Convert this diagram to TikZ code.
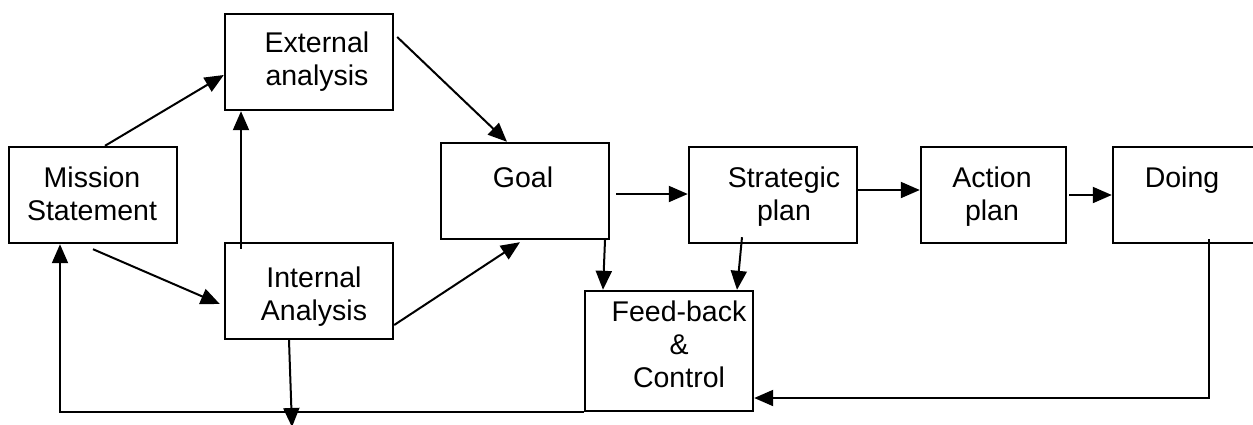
\documentclass[tikz,border=0pt]{standalone}
\usepackage{fontspec}
\setmainfont{Liberation Sans}
\usetikzlibrary{arrows.meta}
\begin{document}
\begin{tikzpicture}[x=1pt,y=-1pt,
  box/.style={draw, line width=2.4pt, minimum width=168pt, minimum height=96pt, inner sep=0pt},
  lbl/.style={font=\fontsize{28.5}{33}\selectfont, text width=170pt, align=center, anchor=base, inner sep=0pt},
  conn/.style={line width=2pt},
  arr/.style={conn, -{Triangle[length=19pt,width=16pt]}}]
\useasboundingbox (0,0) rectangle (1253,424);
\clip (0,0) rectangle (1253,424);
% boxes
\node[box] (ms) at (93,195) {};
\node[box] (ext) at (309,62) {};
\node[box] (int) at (309,291) {};
\node[box] (goal) at (525,191) {};
\node[box] (strat) at (773,195) {};
\node[box, minimum width=145pt] (act) at (993.5,195) {};
\node[box] (doing) at (1197,195) {};
\node[box, minimum height=120pt] (fb) at (669,351) {};
% texts
\node[lbl] (msT) at (92,187) {Mission\\Statement};
\node[lbl] (extT) at (317,52) {External\\analysis};
\node[lbl] (intT) at (314,287) {Internal\\Analysis};
\node[lbl] (goalT) at (523,187) {Goal};
\node[lbl] (stratT) at (784,187) {Strategic\\plan};
\node[lbl] (actT) at (992,187) {Action\\plan};
\node[lbl] (doingT) at (1182,187) {Doing};
\node[lbl] (fbT) at (679,321) {Feed-back\\\&\\Control\hspace*{30pt}};
% connectors
\draw[arr] ([xshift=12pt]ms.north) -- ([yshift=-13pt]ext.west);
\draw[arr] ([xshift=-68pt,yshift=-7pt]int.north) -- ([xshift=-68pt]ext.south);
\draw[arr] ([yshift=-5pt]ms.south) -- ([xshift=-4pt,yshift=-13pt]int.west);
\draw[arr] ([xshift=3pt,yshift=25pt]ext.east) -- ([xshift=-18pt]goal.north);
\draw[arr] ([yshift=-34pt]int.east) -- ([xshift=-5pt,yshift=-2pt]goal.south);
\draw[arr] ([xshift=6pt,yshift=-3pt]goal.east) -- ([yshift=1pt]strat.west);
\draw[arr] ([xshift=80pt]goal.south) -- ([xshift=-66pt]fb.north);
\draw[arr] ([xshift=-31pt,yshift=7pt]strat.south) -- ([xshift=68pt]fb.north);
\draw[arr] ([xshift=-2pt,yshift=5pt]strat.east) -- ([yshift=5pt]act.west);
\draw[arr] ([xshift=2pt]act.east) -- (doing.west);
\draw[arr] ([xshift=12pt,yshift=5pt]doing.south) |- ([yshift=-47pt]fb.east);
\coordinate (bot) at (292,427);
\draw[arr] ([xshift=-20pt]int.south) -- (bot);
\draw[arr] (fb.south west) -| ([xshift=-33pt]ms.south);
\end{tikzpicture}
\end{document}
